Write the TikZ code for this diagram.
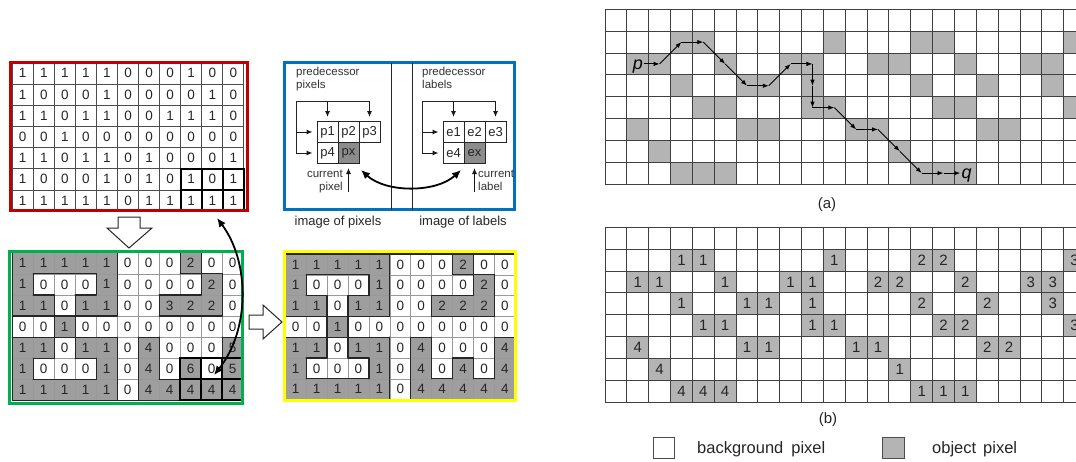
\documentclass[tikz,border=0pt]{standalone}
\usepackage{fontspec}
\setmainfont{Liberation Sans}
\usetikzlibrary{arrows.meta}
\definecolor{fred}{RGB}{192,0,0}
\definecolor{fgreen}{RGB}{0,176,80}
\definecolor{fyellow}{RGB}{255,255,0}
\definecolor{fblue}{RGB}{0,112,192}
\definecolor{objgray}{RGB}{180,180,180}
\definecolor{labgray}{RGB}{158,158,158}
\definecolor{pxgray}{RGB}{140,140,140}
\tikzset{
 dig/.style={inner sep=0pt, font=\fontsize{13.5}{15}\selectfont, text=black!85},
 gl0/.style={draw=black!70, line width=0.8pt},
 gl1/.style={draw=black!40, line width=0.6pt},
 bound/.style={draw=black!85, line width=1.2pt, line cap=round},
 tbox/.style={draw=black, line width=2pt},
 framebox/.style={line width=3pt},
 blockarrow/.style={draw=black!85, fill=white, line width=1pt, line join=miter},
 bigarrow/.style={{Latex[length=9pt,width=8pt]}-{Latex[length=9pt,width=8pt]}, line width=1.8pt},
 plabel/.style={font=\fontsize{11.5}{13.5}\selectfont, align=left, inner sep=0pt, text=black!80},
 pcell/.style={draw=black!85, line width=1pt, minimum width=21pt, minimum height=21pt, inner sep=0pt, font=\fontsize{13}{15}\selectfont, text=black!85},
 thinline/.style={draw=black!85, line width=1pt},
 sarrow/.style={-{Latex[length=6pt,width=5pt]}, draw=black!90, line width=1pt, shorten >=4pt},
 blabel/.style={font=\fontsize{13}{15}\selectfont, inner sep=0pt, text=black!85},
 rgl/.style={draw=black!75, line width=0.9pt},
 bdig/.style={inner sep=0pt, font=\fontsize{15}{17}\selectfont, text=black!85},
 parr/.style={-{Latex[length=6pt,width=4.5pt]}, draw=black, line width=0.9pt},
 pq/.style={font=\fontsize{18}{20}\selectfont\itshape, inner sep=1pt},
 captext/.style={font=\fontsize{15}{17}\selectfont, inner sep=0pt, text=black!85},
 legbox/.style={draw=black!70, line width=0.9pt, minimum size=21.5pt, inner sep=0pt},
 legtext/.style={font=\fontsize{16.5}{18}\selectfont, inner sep=0pt, text=black!85}
}
\def\RA{{1,1,1,1,1,0,0,0,1,0,0,%
1,0,0,0,1,0,0,0,0,1,0,%
1,1,0,1,1,0,0,1,1,1,0,%
0,0,1,0,0,0,0,0,0,0,0,%
1,1,0,1,1,0,1,0,0,0,1,%
1,0,0,0,1,0,1,0,1,0,1,%
1,1,1,1,1,0,1,1,1,1,1}}
\def\GA{{1,1,1,1,1,0,0,0,2,0,0,%
1,0,0,0,1,0,0,0,0,2,0,%
1,1,0,1,1,0,0,3,2,2,0,%
0,0,1,0,0,0,0,0,0,0,0,%
1,1,0,1,1,0,4,0,0,0,5,%
1,0,0,0,1,0,4,0,6,0,5,%
1,1,1,1,1,0,4,4,4,4,4}}
\def\YA{{1,1,1,1,1,0,0,0,2,0,0,%
1,0,0,0,1,0,0,0,0,2,0,%
1,1,0,1,1,0,0,2,2,2,0,%
0,0,1,0,0,0,0,0,0,0,0,%
1,1,0,1,1,0,4,0,0,0,4,%
1,0,0,0,1,0,4,0,4,0,4,%
1,1,1,1,1,0,4,4,4,4,4}}
\def\objcells{3/1/1,4/1/1,10/1/1,14/1/2,15/1/2,21/1/3,%
1/2/1,2/2/1,5/2/1,8/2/1,9/2/1,12/2/2,13/2/2,16/2/2,19/2/3,20/2/3,%
3/3/1,6/3/1,7/3/1,9/3/1,14/3/2,17/3/2,20/3/3,%
4/4/1,5/4/1,9/4/1,10/4/1,15/4/2,16/4/2,21/4/3,%
1/5/4,6/5/1,7/5/1,11/5/1,12/5/1,17/5/2,18/5/2,%
2/6/4,13/6/1,%
3/7/4,4/7/4,5/7/4,14/7/1,15/7/1,16/7/1}
% #1 array, #2 x0, #3 y0, #4 cell width, #5 cell height, #6 name prefix, #7 shading (1/0)
\newcommand\mylabgrid[7]{%
\begin{scope}[shift={(#2,#3)}]
\foreach \ii in {0,...,6}{\foreach \jj in {0,...,10}{%
 \pgfmathtruncatemacro\cv{#1[\ii*11+\jj]}%
 \ifnum#7=1 \ifnum\cv>0 \fill[labgray] ({\jj*#4},{\ii*#5}) rectangle ++(#4,#5);\fi\fi
}}
\foreach \jj in {0,...,11}{\draw[gl#7] ({\jj*#4},0) -- ({\jj*#4},{7*#5});}
\foreach \ii in {0,...,7}{\draw[gl#7] (0,{\ii*#5}) -- ({11*#4},{\ii*#5});}
\ifnum#7=1
\foreach \ii in {0,...,6}{\foreach \jj in {0,...,10}{%
 \pgfmathtruncatemacro\cv{#1[\ii*11+\jj]}%
 \ifnum\jj<10 \pgfmathtruncatemacro\nv{#1[\ii*11+\jj+1]}%
   \pgfmathtruncatemacro\dd{(\cv>0)!=(\nv>0)}%
   \ifnum\dd=1 \draw[bound] ({(\jj+1)*#4},{\ii*#5}) -- ++(0,#5);\fi
 \fi
 \ifnum\ii<6 \pgfmathtruncatemacro\nv{#1[(\ii+1)*11+\jj]}%
   \pgfmathtruncatemacro\dd{(\cv>0)!=(\nv>0)}%
   \ifnum\dd=1 \draw[bound] ({\jj*#4},{(\ii+1)*#5}) -- ++(#4,0);\fi
 \fi
}}
\draw[bound] (0,0) rectangle ({11*#4},{7*#5});
\fi
\foreach \ii in {0,...,6}{\foreach \jj in {0,...,10}{%
 \pgfmathtruncatemacro\cv{#1[\ii*11+\jj]}%
 \node[dig] (#6-\ii-\jj) at ({(\jj+0.5)*#4},{(\ii+0.5)*#5}) {\cv};
}}
\end{scope}}
\newcommand\mythickbox[4]{%
\begin{scope}[shift={(#1,#2)}]
\draw[tbox] ({8*#3},{5*#4}) rectangle ({11*#3},{7*#4});
\draw[tbox] ({9*#3},{5*#4}) -- ({9*#3},{7*#4}) ({10*#3},{5*#4}) -- ({10*#3},{7*#4}) ({8*#3},{6*#4}) -- ({11*#3},{6*#4});
\end{scope}}
\begin{document}
\begin{tikzpicture}[x=1pt,y=-1pt]
\useasboundingbox (0,0) rectangle (1076,461);
\fill[white] (0,0) rectangle (1076,461);

% ---------- left grids ----------
\mylabgrid{\RA}{12.2}{62.7}{21.06}{21.2}{r}{0}
\mythickbox{12.2}{62.7}{21.06}{21.2}
\mylabgrid{\GA}{12.2}{252.7}{21}{21.1}{g}{1}
\mythickbox{12.2}{252.7}{21}{21.1}
\mylabgrid{\YA}{285.2}{254}{20.93}{20.8}{y}{1}

\draw[framebox, draw=fred] (10.3,62.3) rectangle (247.7,210.7);
\draw[framebox, draw=fgreen] (9,251) rectangle (242.5,403);
\draw[framebox, draw=fyellow] (284,251.5) rectangle (515,400.5);
\draw[framebox, draw=fblue] (284.5,62.5) rectangle (514.5,209.7);

% hollow block arrows
\draw[blockarrow] (118,217) -- (140,217) -- (140,228) -- (152,228) -- (129,248) -- (107,228) -- (118,228) -- cycle;
\draw[blockarrow] (249,315) -- (263,315) -- (263,305) -- (282,322) -- (263,339) -- (263,329) -- (249,329) -- cycle;

% curved arrow between red and green grids
\coordinate (ctop) at (217,218);
\coordinate (cbot) at (214,375);
\draw[bigarrow] (ctop) .. controls (250,262) and (250,330) .. (cbot);

% ---------- blue box ----------
\draw[thinline] (391,62.5) -- (391,209.7);
\draw[thinline] (412,62.5) -- (412,209.7);
\node[plabel, anchor=north west] (pp) at (296,66.5) {predecessor\\pixels};
\node[plabel, anchor=north west] (pl) at (422,66.5) {predecessor\\labels};
\coordinate (bk1) at (296,101);
\coordinate (bk2) at (422,101);
\node[pcell] (p1) at (327.5,132) {p1};
\node[pcell] (p2) at (348.5,132) {p2};
\node[pcell] (p3) at (369.5,132) {p3};
\node[pcell] (p4) at (327.5,153) {p4};
\node[pcell, fill=pxgray] (px) at (348.5,153) {px};
\node[pcell] (e1) at (453.5,132) {e1};
\node[pcell] (e2) at (474.5,132) {e2};
\node[pcell] (e3) at (495.5,132) {e3};
\node[pcell] (e4) at (453.5,153) {e4};
\node[pcell, fill=pxgray] (ex) at (474.5,153) {ex};
\draw[thinline] (bk1 |- p4.west) -- (bk1) -- (p3.north |- bk1);
\draw[sarrow] (p1.north |- bk1) -- (p1.north);
\draw[sarrow] (p3.north |- bk1) -- (p3.north);
\draw[sarrow] (bk1 |- p1.west) -- (p1.west);
\draw[sarrow] (bk1 |- p4.west) -- (p4.west);
\draw[thinline] (bk2 |- e4.west) -- (bk2) -- (e3.north |- bk2);
\draw[sarrow] (e1.north |- bk2) -- (e1.north);
\draw[sarrow] (e3.north |- bk2) -- (e3.north);
\draw[sarrow] (bk2 |- e1.west) -- (e1.west);
\draw[sarrow] (bk2 |- e4.west) -- (e4.west);
\node[plabel, align=right, anchor=north east] (cp) at (343,169.5) {current\\pixel};
\node[plabel, anchor=north west] (cl) at (478,169.5) {current\\label};
\coordinate (cpa) at (348.5,191.5);
\coordinate (cla) at (474.5,191.5);
\draw[sarrow] (cpa) -- (px.south);
\draw[sarrow] (cla) -- (ex.south);
\coordinate (bl) at (361,170);
\coordinate (br) at (461,170);
\draw[bigarrow] (bl) .. controls (386,193) and (436,193) .. (br);
\node[blabel] (ip) at (338,222) {image of pixels};
\node[blabel] (il) at (463,222) {image of labels};

% ---------- right grids (a) and (b) ----------
\begin{scope}
\clip (600,0) rectangle (1076,461);
\foreach \cc/\rr/\ll in \objcells {%
 \fill[objgray] ({605+\cc*21.84},{9.3+\rr*21.84}) rectangle ++(21.84,21.84);
 \fill[objgray] ({605+\cc*21.84},{227.3+\rr*21.84}) rectangle ++(21.84,21.84);
}
\foreach \k in {0,...,22} {%
 \draw[rgl] ({605+\k*21.84},9.3) -- ({605+\k*21.84},{9.3+8*21.84});
 \draw[rgl] ({605+\k*21.84},227.3) -- ({605+\k*21.84},{227.3+8*21.84});
}
\foreach \k in {0,...,8} {%
 \draw[rgl] (605,{9.3+\k*21.84}) -- (1076,{9.3+\k*21.84});
 \draw[rgl] (605,{227.3+\k*21.84}) -- (1076,{227.3+\k*21.84});
}
\foreach \cc/\rr/\ll in \objcells {%
 \node[bdig] (b-\cc-\rr) at ({605+(\cc+0.5)*21.84},{227.3+(\rr+0.5)*21.84}) {\ll};
}
\end{scope}

% path p -> q
\foreach \cc/\rr in {2/2,3/1,4/1,5/2,6/3,7/3,8/2,9/2,9/3,9/4,10/4,11/5,12/5,13/6,14/7,15/7}
 \coordinate (a\cc-\rr) at ({605+(\cc+0.5)*21.84},{9.3+(\rr+0.5)*21.84});
\node[pq] (p) at (637.8,67) {p};
\node[pq] (q) at (966.5,175.5) {q};
\draw[parr] (p.east |- a2-2) -- (a2-2);
\foreach \sa/\sb in {a2-2/a3-1,a3-1/a4-1,a4-1/a5-2,a5-2/a6-3,a6-3/a7-3,a7-3/a8-2,a8-2/a9-2,a9-2/a9-3,a9-3/a9-4,a9-4/a10-4,a10-4/a11-5,a11-5/a12-5,a12-5/a13-6,a13-6/a14-7,a14-7/a15-7}
 \draw[parr] (\sa) -- (\sb);
\draw[parr] (a15-7) -- (q.west |- a15-7);

\node[captext] (ca) at (827,205) {(a)};
\node[captext] (cb) at (828,420) {(b)};

% legend
\node[legbox] (lw) at (664,448) {};
\node[legbox, fill=objgray] (lg) at (893.5,448) {};
\node[legtext, anchor=west] (lt1) at (697,449) {background\hspace{8pt}pixel};
\node[legtext, anchor=west] (lt2) at (932,449) {object\hspace{7pt}pixel};
\end{tikzpicture}
\end{document}
